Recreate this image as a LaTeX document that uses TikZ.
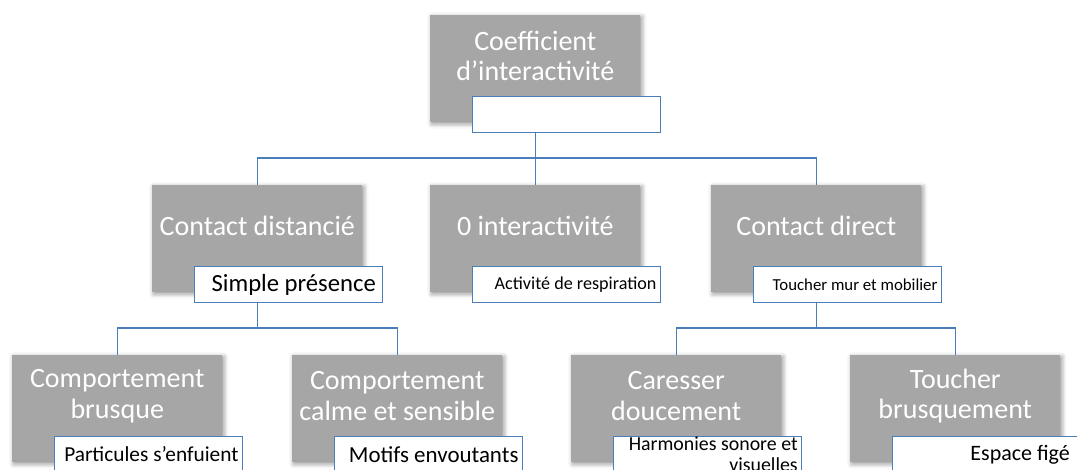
\documentclass[tikz,border=0pt]{standalone}
\usepackage{fontspec}
\setmainfont{Carlito}
\usetikzlibrary{calc,shadows.blur}
\definecolor{boxgray}{HTML}{A6A6A6}
\definecolor{lineblue}{HTML}{4A7EBB}
\tikzset{
  graybox/.style={rectangle, fill=boxgray, draw=none, anchor=north west,
    minimum width=157.5pt, minimum height=80.25pt, inner sep=0pt,
    blur shadow={shadow xshift=1.2pt, shadow yshift=-1.2pt, shadow blur radius=3.5pt, shadow opacity=45}},
  graytext/.style={text=white, align=center, inner sep=0pt,
    font=\fontsize{21}{23}\selectfont},
  whitebox/.style={rectangle, fill=white, draw=lineblue, line width=0.75pt, anchor=north west,
    minimum width=141pt, minimum height=27pt, text width=135pt, inner xsep=3pt, inner ysep=0pt, align=flush right},
  conn/.style={draw=lineblue, line width=1pt},
}
\begin{document}
\begin{tikzpicture}[x=0.75pt,y=-0.75pt]
\useasboundingbox (0,0) rectangle (1077,470);
\clip (0,0) rectangle (1077,470);
% gray boxes
\node[graybox] (g1) at (430,15) {};
\node[graybox] (g2) at (152,185) {};
\node[graybox] (g3) at (430,185) {};
\node[graybox] (g4) at (711,185) {};
\node[graybox] (g5) at (12,355) {};
\node[graybox] (g6) at (292,355) {};
\node[graybox] (g7) at (571,355) {};
\node[graybox] (g8) at (850,355) {};
% gray texts
\node[graytext] (t1) at ($(g1.north)+(0,41)$) {Coefficient\\d’interactivité};
\node[graytext] (t2) at ($(g2.north)+(0,41)$) {Contact distancié};
\node[graytext] (t3) at ($(g3.north)+(0,41)$) {0 interactivité};
\node[graytext] (t4) at ($(g4.north)+(0,41)$) {Contact direct};
\node[graytext] (t5) at ($(g5.north)+(0,41)$) {Comportement\\brusque};
\node[graytext] (t6) at ($(g6.north)+(0,41)$) {Comportement\\calme et sensible};
\node[graytext] (t7) at ($(g7.north)+(0,41)$) {Caresser\\doucement};
\node[graytext] (t8) at ($(g8.north)+(0,41)$) {Toucher\\brusquement};
% white boxes
\node[whitebox] (w1) at ($(g1.north west)+(42,81)$) {};
\node[whitebox, font=\fontsize{18.5}{20}\selectfont, inner xsep=5pt, text width=131pt] (w2) at ($(g2.north west)+(42,81)$) {Simple présence};
\node[whitebox, font=\fontsize{13.6}{15}\selectfont] (w3) at ($(g3.north west)+(42,81)$) {Activité de respiration};
\node[whitebox, font=\fontsize{12.6}{14}\selectfont] (w4) at ($(g4.north west)+(42,81)$) {Toucher mur et mobilier};
\node[whitebox, font=\fontsize{16}{18}\selectfont] (w5) at ($(g5.north west)+(42,81)$) {Particules s’enfuient};
\node[whitebox, font=\fontsize{17.2}{19}\selectfont] (w6) at ($(g6.north west)+(42,81)$) {Motifs envoutants};
\node[whitebox] (w7) at ($(g7.north west)+(42,81)$) {};
\node[align=flush right, inner sep=0pt, anchor=east, font=\fontsize{14.9}{16}\selectfont] (t7b) at ($(w7.east)+(-4,0)$) {Harmonies sonore et\\visuelles};
\node[whitebox, font=\fontsize{16.5}{18}\selectfont, inner xsep=8pt, text width=125pt] (w8) at ($(g8.north west)+(42,81)$) {Espace figé};
% connectors
\coordinate (j1) at ($(g1.center |- w1.south)+(0,25)$);
\coordinate (j2) at ($(g2.center |- w2.south)+(0,25)$);
\coordinate (j4) at ($(g4.center |- w4.south)+(0,25)$);
\draw[conn] (g1.center |- w1.south) -- (j1);
\draw[conn] (j1) -| (g2.north);
\draw[conn] (j1) -| (g3.north);
\draw[conn] (j1) -| (g4.north);
\draw[conn] (g2.center |- w2.south) -- (j2);
\draw[conn] (j2) -| (g5.north);
\draw[conn] (j2) -| (g6.north);
\draw[conn] (g4.center |- w4.south) -- (j4);
\draw[conn] (j4) -| (g7.north);
\draw[conn] (j4) -| (g8.north);
\end{tikzpicture}
\end{document}
